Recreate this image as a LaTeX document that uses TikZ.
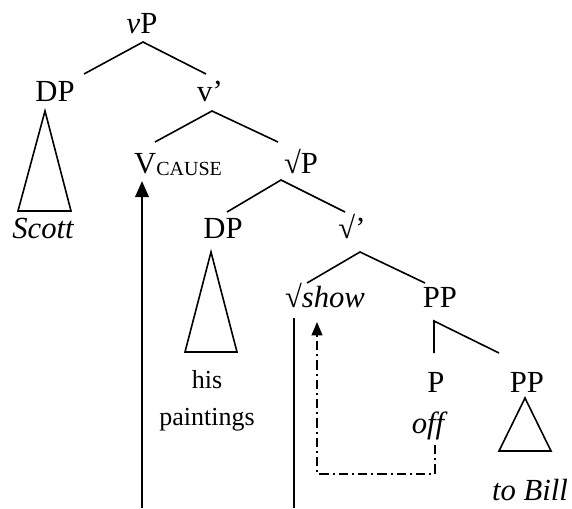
\documentclass[tikz,border=0pt]{standalone}
\usepackage{fontspec}
\setmainfont{Liberation Serif}
\usetikzlibrary{arrows.meta,calc}

\begin{document}
\begin{tikzpicture}[
    x=0.75pt,y=-0.75pt,
    cat/.style={anchor=base,inner sep=0pt,font=\fontsize{23}{27}\selectfont},
    leaf/.style={anchor=base,inner sep=0pt,align=center,font=\fontsize{23}{27}\selectfont\itshape},
    branch/.style={line width=1.2pt},
    mv/.style={-{Triangle[length=12pt,width=10pt]},line width=2pt},
    mvd/.style={-{Triangle[length=10pt,width=8pt]},line width=1.5pt,dash pattern=on 7pt off 3pt on 1.5pt off 3pt}]
    \useasboundingbox (0,0) rectangle (572,508);
    % labels
    \node[cat] (vP) at (142,33) {\textit{v}P};
    \node[cat] (dpa) at (55,101) {DP};
    \node[cat] (vbar) at (210,101) {v’};
    \node[cat] (vcause) at (178,173) {V\raisebox{-1.5pt}{\fontsize{15}{15}\selectfont CAUSE}};
    \node[cat] (rootP) at (301,173) {√P};
    \node[cat] (dpb) at (223,238) {DP};
    \node[cat] (rootbar) at (352,238) {√’};
    \node[cat] (show) at (325,307) {√\textit{show}};
    \node[cat] (ppa) at (440,307) {PP};
    \node[cat] (p) at (436,392) {P};
    \node[cat] (ppb) at (527,392) {PP};
    % leaves
    \node[leaf] (scott) at (43,238) {Scott};
    \node[anchor=base,inner sep=0pt,align=center,font=\fontsize{19.5}{27.5}\selectfont] (paint) at (207,425) {his\\paintings};
    \node[leaf] (off) at (428,433) {off};
    \node[leaf] (bill) at (530,500) {to Bill};
    % branches
    \draw[branch] ([shift={(29,-27)}]dpa.base) -- ([shift={(1,9)}]vP.base) -- ([shift={(-4,-27)}]vbar.base);
    \draw[branch] ([shift={(-23,-31)}]vcause.base) -- ([shift={(2,10)}]vbar.base) -- ([shift={(-23,-31)}]rootP.base);
    \draw[branch] ([shift={(4,-26)}]dpb.base) -- ([shift={(-20,7)}]rootP.base) -- ([shift={(-7,-26)}]rootbar.base);
    \draw[branch] ([shift={(-18,-24)}]show.base) -- ([shift={(8,14)}]rootbar.base) -- ([shift={(-15,-24)}]ppa.base);
    \draw[branch] ([shift={(-2,-39)}]p.base) -- ([shift={(-6,14)}]ppa.base) -- ([shift={(-28,-39)}]ppb.base);
    % triangles
    \draw[branch] ([shift={(-10,10)}]dpa.base) -- ([shift={(-37,110)}]dpa.base) -- ([shift={(16,110)}]dpa.base) -- cycle;
    \draw[branch] ([shift={(-12,14)}]dpb.base) -- ([shift={(-38,114)}]dpb.base) -- ([shift={(14,114)}]dpb.base) -- cycle;
    \draw[branch] ([shift={(-2,6)}]ppb.base) -- ([shift={(-28,59)}]ppb.base) -- ([shift={(24,59)}]ppb.base) -- cycle;
    % movement
    \coordinate (ta) at (142,508);
    \coordinate (tb) at (294,508);
    \draw[mv] (ta) -- ([shift={(-36,8)}]vcause.base);
    \draw[line width=2pt] (tb) -- ([shift={(-31,11)}]show.base);
    \draw[mvd] ([shift={(7,12)}]off.base) -- ++(0,29) -| ([shift={(-8,15)}]show.base);
\end{tikzpicture}
\end{document}
